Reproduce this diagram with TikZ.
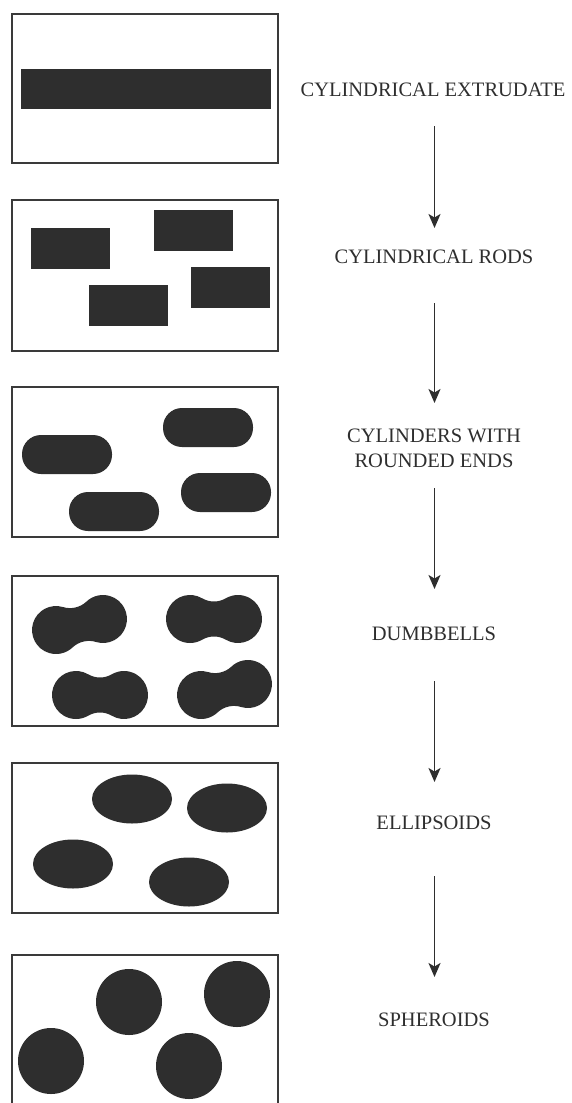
\documentclass[tikz,border=0pt]{standalone}
\usepackage{fontspec}
\setmainfont{Liberation Serif}
\usetikzlibrary{arrows.meta}
\definecolor{ink}{HTML}{2E2E2E}
\definecolor{frame}{HTML}{3A3A3A}
\newcommand\dumbbell[6]{% cx, cy, angle, d, r, h
  \pgfmathsetmacro\dbrho{(#4*#4+#6*#6-#5*#5)/(2*(#5-#6))}%
  \pgfmathsetmacro\dbbeta{atan((#6+\dbrho)/#4)}%
  \begin{scope}[shift={(#1,#2)},rotate=#3]
    \fill[particle] ({-#4+#5*cos(\dbbeta)},{#5*sin(\dbbeta)})
      arc[start angle=180+\dbbeta, end angle=360-\dbbeta, radius=\dbrho]
      arc[start angle=180-\dbbeta, end angle=\dbbeta-180, radius=#5]
      arc[start angle=\dbbeta, end angle=180-\dbbeta, radius=\dbrho]
      arc[start angle=-\dbbeta, end angle=\dbbeta-360, radius=#5] -- cycle;
  \end{scope}}
\begin{document}
\begin{tikzpicture}[x=1pt,y=-1pt,
  panel/.style={draw=frame,line width=1.6pt,fill=white},
  particle/.style={fill=ink},
  label/.style={font=\fontsize{20.5}{25}\selectfont,text=ink,inner sep=0pt,align=center},
  arr/.style={draw=ink,line width=1.9pt,-{Stealth[length=14pt,width=12pt,inset=3.5pt]}}]
\useasboundingbox (0,0) rectangle (572,1103);
\clip (0,0) rectangle (572,1103);
% panels
\draw[panel] (12,14) rectangle (278,163);
\draw[panel] (12,200) rectangle (278,351);
\draw[panel] (12,387) rectangle (278,537);
\draw[panel] (12,576) rectangle (278,726);
\draw[panel] (12,763) rectangle (278,913);
\draw[panel] (12,955) rectangle (278,1110);
% panel 1: extrudate
\fill[particle] (21,69) rectangle (271,109);
% panel 2: rods
\fill[particle] (31,228) rectangle (110,269);
\fill[particle] (154,210) rectangle (233,251);
\fill[particle] (89,285) rectangle (168,326);
\fill[particle] (191,267) rectangle (270,308);
% panel 3: rounded rods
\fill[particle,rounded corners=19pt] (22,435) rectangle (112,474);
\fill[particle,rounded corners=19pt] (163,408) rectangle (253,447);
\fill[particle,rounded corners=19pt] (69,492) rectangle (159,531);
\fill[particle,rounded corners=19pt] (181,473) rectangle (271,512);
% panel 4: dumbbells
\dumbbell{79.5}{624.5}{13.2}{24.1}{24}{17.5}
\dumbbell{214}{619}{0}{24}{24}{17.5}
\dumbbell{100}{695}{0}{24}{24}{17.5}
\dumbbell{224.5}{689.5}{13.2}{24.1}{24}{17.5}
% panel 5: ellipsoids
\fill[particle] (132,799) ellipse [x radius=40, y radius=24.5];
\fill[particle] (227,808) ellipse [x radius=40, y radius=24.5];
\fill[particle] (73,864) ellipse [x radius=40, y radius=24.5];
\fill[particle] (189,882) ellipse [x radius=40, y radius=24.5];
% panel 6: spheroids
\fill[particle] (129,1002) circle [radius=33];
\fill[particle] (237,994) circle [radius=33];
\fill[particle] (51,1061) circle [radius=33];
\fill[particle] (189,1066) circle [radius=33];
% labels
\node[label] (t1) at (433,90) {CYLINDRICAL EXTRUDATE};
\node[label] (t2) at (434,257) {CYLINDRICAL RODS};
\node[label] (t3) at (434,448.5) {CYLINDERS WITH\\ROUNDED ENDS};
\node[label] (t4) at (434,634) {DUMBBELLS};
\node[label] (t5) at (434,823) {ELLIPSOIDS};
\node[label] (t6) at (434,1020) {SPHEROIDS};
% arrows
\coordinate (a1s) at (434.5,126); \coordinate (a1e) at (434.5,228);
\coordinate (a2s) at (434.5,303); \coordinate (a2e) at (434.5,403);
\coordinate (a3s) at (434.5,488); \coordinate (a3e) at (434.5,589);
\coordinate (a4s) at (434.5,681); \coordinate (a4e) at (434.5,782);
\coordinate (a5s) at (434.5,876); \coordinate (a5e) at (434.5,977);
\draw[arr] (a1s) -- (a1e);
\draw[arr] (a2s) -- (a2e);
\draw[arr] (a3s) -- (a3e);
\draw[arr] (a4s) -- (a4e);
\draw[arr] (a5s) -- (a5e);
\end{tikzpicture}
\end{document}
